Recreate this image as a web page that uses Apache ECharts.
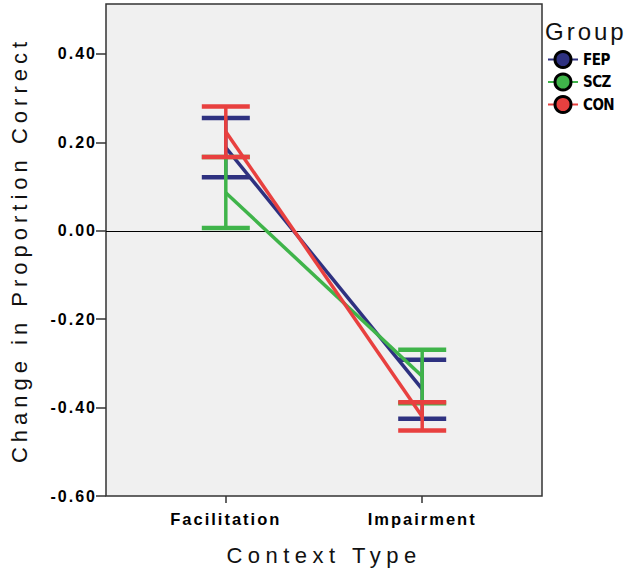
<!DOCTYPE html>
<html>
<head>
<meta charset="utf-8">
<script src="https://cdn.jsdelivr.net/npm/echarts@6/dist/echarts.min.js"></script>
<style>
html,body{margin:0;padding:0;background:#fff;}
#chart{width:630px;height:577px;}
</style>
</head>
<body>
<div id="chart"></div>
<script>
// ---- data ----
const categories = ['Facilitation', 'Impairment'];
const groups = ['FEP', 'SCZ', 'CON'];
const colors = ['#2e3180', '#3fb44a', '#e8403f'];
const meanFEP = [0.188, -0.358];
const meanSCZ = [0.086, -0.329];
const meanCON = [0.224, -0.420];
const lowFEP = [0.121, -0.425];
const highFEP = [0.255, -0.292];
const lowSCZ = [0.006, -0.390];
const highSCZ = [0.167, -0.269];
const lowCON = [0.167, -0.452];
const highCON = [0.281, -0.388];
const yTicks = [-0.6, -0.4, -0.2, 0, 0.2, 0.4];

const means = [meanFEP, meanSCZ, meanCON];
const lows = [lowFEP, lowSCZ, lowCON];
const highs = [highFEP, highSCZ, highCON];

const chart = echarts.init(document.getElementById('chart'), null, {renderer: 'svg'});

const series = [];
groups.forEach((g, gi) => {
  const line = {
    name: g,
    type: 'line',
    data: categories.map((c, i) => [i, means[gi][i]]),
    showSymbol: false,
    symbol: 'circle',
    lineStyle: {color: colors[gi], width: 3.5},
    itemStyle: {color: colors[gi]},
    z: 3 + gi * 2
  };
  if (gi === 0) {
    line.markLine = {
      silent: true,
      symbol: 'none',
      label: {show: false},
      lineStyle: {color: '#000', width: 1, type: 'solid'},
      data: [{yAxis: 0}],
      z: 1
    };
  }
  series.push(line);
  series.push({
    name: g,
    type: 'custom',
    z: 4 + gi * 2,
    data: categories.map((c, i) => [i, lows[gi][i], highs[gi][i]]),
    renderItem: function (params, api) {
      const x = api.value(0);
      const lo = api.coord([x, api.value(1)]);
      const hi = api.coord([x, api.value(2)]);
      const hw = 24;
      const col = colors[gi];
      return {
        type: 'group',
        children: [
          {type: 'line', shape: {x1: lo[0], y1: lo[1], x2: hi[0], y2: hi[1]}, style: {stroke: col, lineWidth: 3.5}},
          {type: 'line', shape: {x1: lo[0] - hw, y1: lo[1], x2: lo[0] + hw, y2: lo[1]}, style: {stroke: col, lineWidth: 4.5}},
          {type: 'line', shape: {x1: hi[0] - hw, y1: hi[1], x2: hi[0] + hw, y2: hi[1]}, style: {stroke: col, lineWidth: 4.5}}
        ]
      };
    }
  });
});

const option = {
  animation: false,
  backgroundColor: '#ffffff',
  title: {
    text: 'Group',
    left: 540,
    top: 14,
    textStyle: {fontFamily: 'Liberation Sans', fontSize: 24, fontWeight: 'normal', color: '#111'}
  },
  legend: {
    data: groups,
    orient: 'vertical',
    left: 542,
    top: 45,
    itemWidth: 30,
    itemHeight: 20,
    itemGap: 3.5,
    itemStyle: {borderColor: '#000', borderWidth: 3},
    textStyle: {fontFamily: 'Liberation Sans Narrow, DejaVu Sans Condensed', fontWeight: 'bold', fontSize: 15, color: '#000'}
  },
  grid: {
    left: 97, right: 88, top: 4, bottom: 81,
    show: true,
    backgroundColor: '#f0f0f0',
    borderColor: '#333',
    borderWidth: 1.5
  },
  xAxis: {
    type: 'value',
    min: -0.61,
    max: 1.61,
    name: 'Context Type',
    nameLocation: 'middle',
    nameGap: 48,
    nameTextStyle: {fontFamily: 'Liberation Sans', fontSize: 22, color: '#111'},
    axisLine: {show: false, onZero: false},
    splitLine: {show: false},
    axisTick: {show: true, length: 7, lineStyle: {color: '#333', width: 1.5}, customValues: [0, 1]},
    axisLabel: {
      customValues: [0, 1],
      margin: 14,
      fontFamily: 'Liberation Sans', fontWeight: 'bold', fontSize: 16.5, color: '#000',
      formatter: v => categories[Math.round(v)] || ''
    }
  },
  yAxis: {
    type: 'value',
    min: -0.6,
    max: 0.513,
    name: 'Change in Proportion Correct',
    nameLocation: 'middle',
    nameGap: 76,
    nameTextStyle: {fontFamily: 'Liberation Sans', fontSize: 22, color: '#111'},
    axisLine: {show: false, onZero: false},
    splitLine: {show: false},
    axisTick: {show: true, length: 10, lineStyle: {color: '#333', width: 1.5}, customValues: yTicks},
    axisLabel: {
      customValues: yTicks,
      margin: 9,
      fontFamily: 'Liberation Sans', fontWeight: 'bold', fontSize: 16, color: '#000',
      formatter: v => v.toFixed(2)
    }
  },
  series: series
};

chart.setOption(option);

function applySpacing() {
  document.querySelectorAll('#chart svg text').forEach(t => {
    const s = t.textContent;
    let ls = 2;
    if (s === 'Change in Proportion Correct') ls = 5;
    else if (s === 'Context Type') ls = 5.5;
    else if (s === 'Group') ls = 3;
    else if (groups.indexOf(s) >= 0) ls = -0.5;
    t.setAttribute('letter-spacing', ls + 'px');
  });
}
applySpacing();
chart.on('finished', applySpacing);
setTimeout(applySpacing, 30);
setTimeout(applySpacing, 300);
</script>
</body>
</html>
